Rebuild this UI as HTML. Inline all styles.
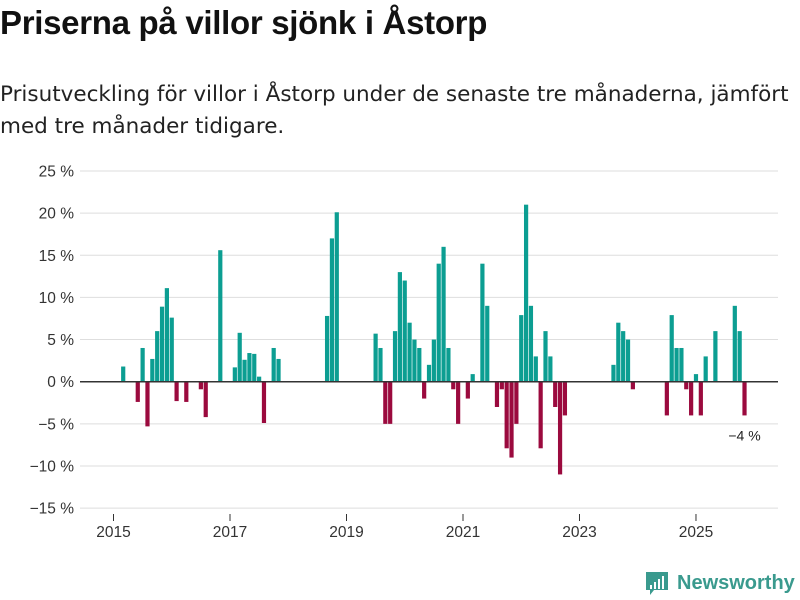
<!DOCTYPE html>
<html><head><meta charset="utf-8"><style>
body{margin:0;width:800px;height:600px;background:#fff;font-family:"Liberation Sans","DejaVu Sans",sans-serif;overflow:hidden;position:relative}
h1{position:absolute;left:0;top:4px;margin:0;font-size:33px;font-weight:bold;color:#111;letter-spacing:-0.3px}
p{position:absolute;left:0;top:79px;margin:0;font-family:"DejaVu Sans",sans-serif;font-size:21.5px;line-height:32px;color:#222;width:800px;white-space:nowrap}
svg{position:absolute;left:0;top:0}
</style></head><body>
<h1>Priserna på villor sjönk i Åstorp</h1>
<p>Prisutveckling för villor i Åstorp under de senaste tre månaderna, jämfört<br>med tre månader tidigare.</p>
<svg id="chart" width="800" height="600"></svg>
<script>
// month index from Jan 2015 -> percent change
const monthIndex=[2,5,6,7,8,9,10,11,12,13,15,18,19,22,25,26,27,28,29,30,31,33,34,
44,45,46,54,55,56,57,58,59,60,61,62,63,64,65,66,67,68,69,70,71,73,74,76,77,79,80,81,82,83,84,85,86,87,88,89,90,91,92,93,
103,104,105,106,107,114,115,116,117,118,119,120,121,122,124,128,129,130];
const values=[1.8,-2.4,4.0,-5.3,2.7,6.0,8.9,11.1,7.6,-2.3,-2.4,-0.9,-4.2,15.6,1.7,5.8,2.6,3.4,3.3,0.6,-4.9,4.0,2.7,
7.8,17.0,20.1,5.7,4.0,-5.0,-5.0,6.0,13.0,12.0,7.0,5.0,4.0,-2.0,2.0,5.0,14.0,16.0,4.0,-0.9,-5.0,-2.0,0.9,14.0,9.0,-3.0,-0.9,-7.9,-9.0,-5.0,7.9,21.0,9.0,3.0,-7.9,6.0,3.0,-3.0,-11.0,-4.0,
2.0,7.0,6.0,5.0,-0.9,-4.0,7.9,4.0,4.0,-0.9,-4.0,0.9,-4.0,3.0,6.0,9.0,6.0,-4.0];
const yTicks=[25,20,15,10,5,0,-5,-10,-15];
const yTickLabels=["25 %","20 %","15 %","10 %","5 %","0 %","−5 %","−10 %","−15 %"];
const xTicks=[2015,2017,2019,2021,2023,2025];
const lastLabel="−4 %";

const svg=document.getElementById('chart');
const NS="http://www.w3.org/2000/svg";
const y=v=>381.7-v*8.43;
const x=m=>113.5+m*4.854;
const xYear=yr=>x((yr-2015)*12);
function mk(t,a){const e=document.createElementNS(NS,t);for(const k in a)e.setAttribute(k,a[k]);svg.appendChild(e);return e;}
yTicks.forEach((t,i)=>{
  if(t!==0){const g=mk('line',{x1:80,x2:778,y1:y(t),y2:y(t),stroke:'#dedede','stroke-width':1});
  
  }
  const l=mk('text',{x:74,y:y(t)+5.5,'text-anchor':'end','font-size':15.5,fill:'#333'});
  l.textContent=yTickLabels[i];
  
  
});
xTicks.forEach(yr=>{
  const tk=mk('line',{x1:xYear(yr),x2:xYear(yr),y1:514,y2:521,stroke:'#333','stroke-width':1});
  
  
  const l=mk('text',{x:xYear(yr),y:537,'text-anchor':'middle','font-size':15.5,fill:'#333'});
  l.textContent=yr;
  
  
});
monthIndex.forEach((m,i)=>{
  const v=values[i];
  const top=Math.min(y(v),y(0)),h=Math.abs(y(v)-y(0));
  const r=mk('rect',{x:x(m)-2.1,y:top,width:4.2,height:h,fill:v>=0?'#0c9e92':'#9b0a3e'});
  
  
});
const z=mk('line',{x1:80,x2:778,y1:y(0),y2:y(0),stroke:'#333','stroke-width':1.5});


const lm=monthIndex[monthIndex.length-1];
const ll=mk('text',{x:x(lm)+0,y:y(values[values.length-1])+25,'text-anchor':'middle','font-size':14,fill:'#222'});
ll.textContent=lastLabel;


// logo
const lg=mk('g',{});


const ic=document.createElementNS(NS,'path');
ic.setAttribute('d','M646 572 h22 v18 h-14 l-4 5 v-5 h-4 z');
ic.setAttribute('fill','#3a9a8e');lg.appendChild(ic);
[[650,585,2,4],[654,582,2,7],[658,579,2,10],[662,576,2,13]].forEach(b=>{const r=document.createElementNS(NS,'rect');r.setAttribute('x',b[0]);r.setAttribute('y',b[1]);r.setAttribute('width',b[2]);r.setAttribute('height',b[3]-(b[1]+b[3]>590?b[1]+b[3]-588:0));r.setAttribute('fill','#fff');lg.appendChild(r);});
const lt=document.createElementNS(NS,'text');
lt.setAttribute('x',677);lt.setAttribute('y',589);lt.setAttribute('font-size',20);lt.setAttribute('font-weight','bold');lt.setAttribute('fill','#3a9a8e');
lt.textContent='Newsworthy';lg.appendChild(lt);
</script>
</body></html>
